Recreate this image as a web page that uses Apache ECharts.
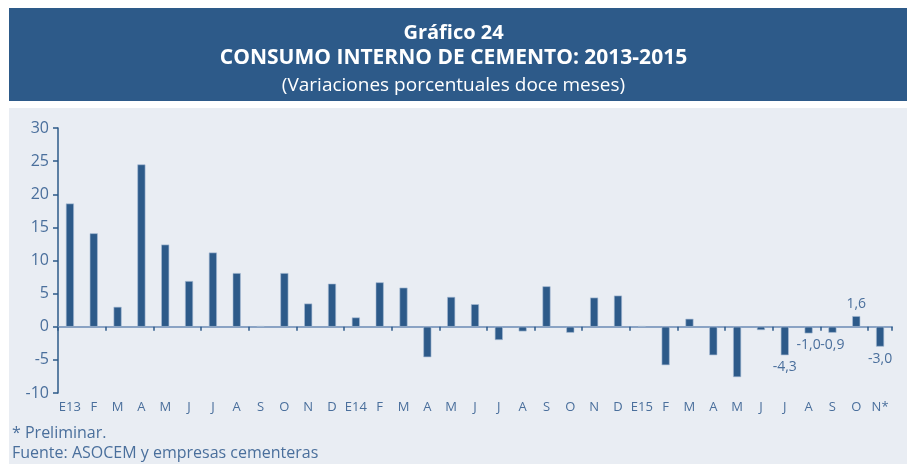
<!DOCTYPE html>
<html>
<head>
<meta charset="utf-8">
<script src="https://cdn.jsdelivr.net/npm/echarts@6/dist/echarts.min.js"></script>
<style>
html,body{margin:0;padding:0;background:#ffffff;}
#chart{width:907px;height:464px;}
</style>
</head>
<body>
<div id="chart"></div>
<script>
// ---- data ----
const categories = ['E13','F','M','A','M','J','J','A','S','O','N','D',
  'E14','F','M','A','M','J','J','A','S','O','N','D',
  'E15','F','M','A','M','J','J','A','S','O','N*'];
const values2013 = [18.6, 14.1, 3.0, 24.5, 12.4, 6.9, 11.2, 8.1, 0.1, 8.1, 3.5, 6.5];
const values2014 = [1.4, 6.7, 5.9, -4.6, 4.5, 3.4, -2.0, -0.7, 6.1, -0.9, 4.4, 4.7];
const values2015 = [0.1, -5.8, 1.2, -4.3, -7.6, -0.5, -4.3, -1.0, -0.9, 1.6, -3.0];
const labelledFrom = 30; // data labels shown from this index on
const yTicks = {min: -10, max: 30, step: 5};
const titleLines = ['Gráfico 24', 'CONSUMO INTERNO DE CEMENTO: 2013-2015', '(Variaciones porcentuales doce meses)'];
const notes = ['* Preliminar.', 'Fuente: ASOCEM y empresas cementeras'];

const values = values2013.concat(values2014, values2015);
const FONT = "'Open Sans', sans-serif";
const TXT = '#4a6f9c';
const BAR = '#2d5a89';

const seriesData = values.map((v, i) => ({
  value: v,
  label: {
    show: i >= labelledFrom,
    position: v >= 0 ? 'top' : 'bottom'
  }
}));

const chart = echarts.init(document.getElementById('chart'), null, {renderer: 'canvas'});
chart.setOption({
  animation: false,
  backgroundColor: '#ffffff',
  graphic: [
    {type: 'rect', left: 9, top: 8, shape: {width: 898, height: 93}, style: {fill: '#2d5a89'}, z: -10},
    {type: 'rect', left: 9, top: 108, shape: {width: 898, height: 356}, style: {fill: '#e9edf3'}, z: -10}
  ],
  title: [
    {text: titleLines[0], left: 'center', top: 18, textStyle: {color: '#fff', fontFamily: FONT, fontSize: 20, fontWeight: 'bold'}},
    {text: titleLines[1], left: 'center', top: 43, textStyle: {color: '#fff', fontFamily: FONT, fontSize: 21, fontWeight: 'bold'}},
    {text: titleLines[2], left: 'center', top: 71, textStyle: {color: '#fff', fontFamily: FONT, fontSize: 19, fontWeight: 'normal'}},
    {text: notes[0], left: 7, top: 420, textStyle: {color: TXT, fontFamily: FONT, fontSize: 16, fontWeight: 'normal'}},
    {text: notes[1], left: 7, top: 440, textStyle: {color: TXT, fontFamily: FONT, fontSize: 16, fontWeight: 'normal'}}
  ],
  grid: {left: 58, right: 15, top: 128, bottom: 71, containLabel: false, outerBoundsMode: 'none'},
  xAxis: [
    {
      type: 'category', data: categories, position: 'bottom',
      axisLine: {show: false, onZero: false},
      axisTick: {show: false},
      axisLabel: {interval: 0, color: TXT, fontFamily: FONT, fontSize: 13, margin: 8},
      splitLine: {show: false}
    },
    {
      type: 'category', data: categories, position: 'bottom',
      axisLine: {show: true, onZero: true, lineStyle: {color: '#8aa3c4', width: 2}},
      axisTick: {show: true, length: 4, lineStyle: {color: '#2d5a89', width: 1.5}},
      axisLabel: {show: false},
      splitLine: {show: false}
    }
  ],
  yAxis: {
    type: 'value', min: yTicks.min, max: yTicks.max, interval: yTicks.step,
    axisLine: {show: true, lineStyle: {color: '#2d5a89', width: 1.5}},
    axisTick: {show: true, length: 5, lineStyle: {color: '#2d5a89', width: 1.5}},
    axisLabel: {color: TXT, fontFamily: FONT, fontSize: 16, margin: 9},
    splitLine: {show: false}
  },
  series: [{
    type: 'bar', xAxisIndex: 0, yAxisIndex: 0,
    data: seriesData,
    barWidth: 8,
    itemStyle: {color: BAR, borderColor: '#a8bcd5', borderWidth: 0.6},
    label: {
      color: TXT, fontFamily: FONT, fontSize: 14, distance: 5,
      formatter: p => p.value.toFixed(1).replace('.', ',')
    }
  }]
});
</script>
</body>
</html>
